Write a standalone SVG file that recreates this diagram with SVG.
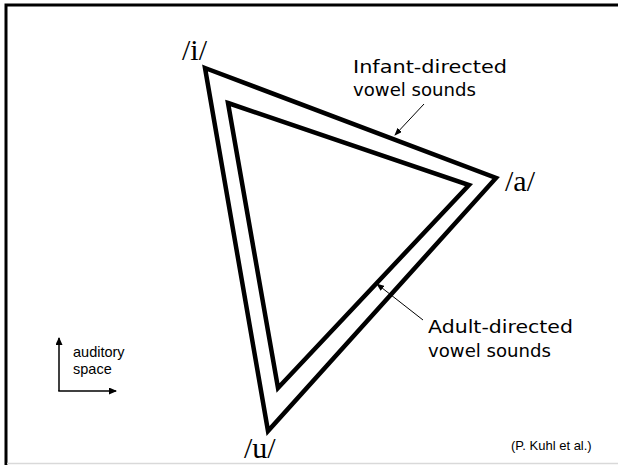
<svg xmlns="http://www.w3.org/2000/svg" width="618" height="465" viewBox="0 0 618 465">
<defs>
<style>
.tri{fill:none;stroke:#000;stroke-width:4.5;stroke-linejoin:miter;stroke-miterlimit:10}
.lead{fill:none;stroke:#000;stroke-width:1}
.ph{font-family:"Liberation Serif","Times New Roman",serif;font-size:30px;fill:#000}
.lab{font-family:"Comic Sans MS","DejaVu Sans",sans-serif;font-size:17px;fill:#000}
.small{font-family:"Liberation Sans",Arial,sans-serif;fill:#000}
</style>
<marker id="ah" markerWidth="8" markerHeight="6" refX="7" refY="3" orient="auto" markerUnits="userSpaceOnUse">
<path d="M0,0 L8,3 L0,6 z" fill="#000"/>
</marker>
<marker id="ah2" markerWidth="8" markerHeight="7" refX="7" refY="3.5" orient="auto" markerUnits="userSpaceOnUse">
<path d="M0,0 L8,3.5 L0,7 z" fill="#000"/>
</marker>
</defs>
<rect x="0" y="0" width="618" height="465" fill="#fff"/>
<g id="frame">
<path d="M6,465 V5 H618" fill="none" stroke="#000" stroke-width="3"/>
<line x1="7" y1="463.5" x2="618" y2="463.5" stroke="#d9d9d9" stroke-width="1.5"/>
</g>
<g id="infant-triangle">
<polygon class="tri" points="205,68 496,178 268,431"/>
</g>
<g id="adult-triangle">
<polygon class="tri" points="228,103 469,185 278,388"/>
</g>
<g id="vowel-i"><text class="ph" x="182" y="60">/i/</text></g>
<g id="vowel-a"><text class="ph" x="505" y="191">/a/</text></g>
<g id="vowel-u"><text class="ph" x="244" y="458">/u/</text></g>
<g id="infant-label">
<text class="lab" x="353" y="73" textLength="154" lengthAdjust="spacingAndGlyphs">Infant-directed</text>
<text class="lab" x="353" y="96" textLength="123" lengthAdjust="spacingAndGlyphs">vowel sounds</text>
</g>
<g id="adult-label">
<text class="lab" x="428" y="333" textLength="145" lengthAdjust="spacingAndGlyphs">Adult-directed</text>
<text class="lab" x="428" y="357" textLength="123" lengthAdjust="spacingAndGlyphs">vowel sounds</text>
</g>
<g id="connectors">
<line class="lead" x1="424" y1="104" x2="395" y2="135" marker-end="url(#ah)"/>
<line class="lead" x1="423" y1="320" x2="377" y2="284" marker-end="url(#ah)"/>
</g>
<g id="axes">
<line x1="59" y1="391" x2="59" y2="338" stroke="#000" stroke-width="1.5" marker-end="url(#ah2)"/>
<line x1="58.25" y1="391" x2="116" y2="391" stroke="#000" stroke-width="1.5" marker-end="url(#ah2)"/>
<text class="small" x="73" y="357" font-size="14.5">auditory</text>
<text class="small" x="73" y="374" font-size="14.5">space</text>
</g>
<g id="credit"><text class="small" x="511" y="450" font-size="13">(P. Kuhl et al.)</text></g>
</svg>
